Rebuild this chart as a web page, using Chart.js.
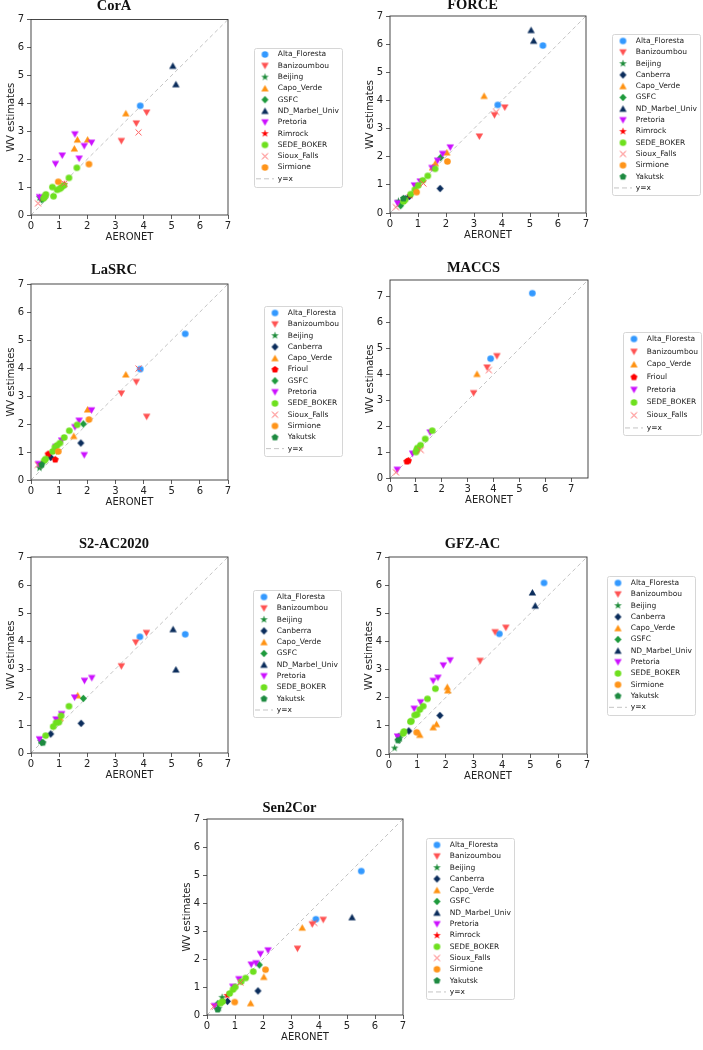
<!DOCTYPE html>
<html>
<head>
<meta charset="utf-8">
<script src="https://cdn.jsdelivr.net/npm/chart.js@4.4.1/dist/chart.umd.min.js"></script>
<style>
  body { margin: 0; background: #fff; width: 703px; height: 1050px; position: relative; overflow: hidden; }
  canvas { position: absolute; }
</style>
</head>
<body>
<script>
// stations, in legend order
const siteCodes = ['AF', 'BA', 'BE', 'CA', 'CV', 'FR', 'GS', 'ND', 'PR', 'RI', 'SB', 'SF', 'SI', 'YA'];
const siteNames = ['Alta_Floresta', 'Banizoumbou', 'Beijing', 'Canberra', 'Capo_Verde', 'Frioul', 'GSFC',
  'ND_Marbel_Univ', 'Pretoria', 'Rimrock', 'SEDE_BOKER', 'Sioux_Falls', 'Sirmione', 'Yakutsk'];
const siteColors = ['#3399ff', '#ff5252', '#1e8c3a', '#0b2d5c', '#ff9212', '#ff0000', '#1e9a3c',
  '#0b2d5c', '#cc11ff', '#ff0000', '#6ee01e', '#ff5a5a', '#ff9419', '#1d8a40'];
const siteMarkers = ['o', 'v', '*', 'D', '^', 'p', 'D', '^', 'v', '*', 'o', 'x', 'o', 'p'];

const tickVals = [0, 1, 2, 3, 4, 5, 6, 7];

// CorA
const coraSite = ['AF', 'BA', 'BA', 'BA', 'BE', 'CV', 'CV', 'CV', 'CV', 'GS', 'GS', 'ND', 'ND',
  'PR', 'PR', 'PR', 'PR', 'PR', 'PR', 'PR', 'RI',
  'SB', 'SB', 'SB', 'SB', 'SB', 'SB', 'SB', 'SB', 'SB', 'SB', 'SB', 'SF', 'SF', 'SF', 'SI', 'SI'];
const coraX = [3.88, 4.11, 3.74, 3.21, 0.30, 3.37, 1.54, 1.65, 2.01, 0.38, 0.42, 5.04, 5.15,
  1.56, 1.89, 2.15, 1.11, 0.87, 1.71, 0.30, 1.18,
  1.63, 1.35, 0.76, 0.80, 0.53, 0.50, 0.93, 1.09, 1.17, 1.03, 0.45, 3.82, 0.25, 1.18, 2.06, 0.97];
const coraY = [3.91, 3.67, 3.28, 2.65, 0.62, 3.64, 2.38, 2.70, 2.70, 0.55, 0.58, 5.34, 4.68,
  2.89, 2.47, 2.59, 2.13, 1.83, 2.02, 0.64, 1.10,
  1.69, 1.33, 1.00, 0.67, 0.74, 0.67, 0.90, 1.00, 1.06, 0.94, 0.60, 2.96, 0.42, 1.13, 1.82, 1.19];

// FORCE
const forceSite = ['AF', 'AF', 'BA', 'BA', 'BA', 'BE', 'CA', 'CA', 'CA', 'CV', 'CV', 'CV', 'CV', 'GS', 'GS',
  'ND', 'ND', 'PR', 'PR', 'PR', 'PR', 'PR', 'PR', 'PR', 'RI',
  'SB', 'SB', 'SB', 'SB', 'SB', 'SB', 'SB', 'SB', 'SF', 'SF', 'SF', 'SI', 'SI', 'YA'];
const forceX = [5.46, 3.85, 4.10, 3.73, 3.19, 0.30, 1.79, 0.69, 0.55, 3.36, 2.03, 1.62, 1.52, 1.81, 0.38,
  5.04, 5.13, 2.15, 1.88, 1.70, 1.50, 0.87, 1.08, 0.27, 0.72,
  1.61, 1.35, 1.17, 1.01, 0.89, 0.74, 0.54, 0.48, 3.79, 1.19, 0.21, 2.05, 0.95, 0.48];
const forceY = [5.95, 3.84, 3.75, 3.48, 2.72, 0.42, 0.87, 0.59, 0.50, 4.16, 2.15, 1.77, 1.62, 1.97, 0.26,
  6.50, 6.12, 2.33, 2.10, 1.86, 1.60, 0.98, 1.12, 0.35, 0.62,
  1.57, 1.32, 1.16, 0.98, 0.83, 0.67, 0.47, 0.41, 3.59, 1.05, 0.21, 1.83, 0.74, 0.52];

// LaSRC
const lasrcSite = ['AF', 'AF', 'BA', 'BA', 'BA', 'BE', 'CA', 'CA', 'CV', 'CV', 'CV', 'FR', 'FR', 'GS', 'GS',
  'PR', 'PR', 'PR', 'PR', 'PR', 'PR', 'PR',
  'SB', 'SB', 'SB', 'SB', 'SB', 'SB', 'SB', 'SB', 'SB', 'SF', 'SF', 'SI', 'SI', 'YA'];
const lasrcX = [5.48, 3.88, 3.74, 3.21, 4.11, 0.30, 1.77, 0.70, 3.37, 2.01, 1.52, 0.61, 0.86, 1.86, 0.34,
  2.15, 1.71, 1.56, 1.09, 0.88, 1.89, 0.27,
  1.64, 1.36, 1.18, 1.03, 0.93, 0.85, 0.77, 0.52, 0.47, 3.82, 0.24, 2.06, 0.97, 0.38];
const lasrcY = [5.22, 3.96, 3.50, 3.09, 2.26, 0.43, 1.32, 0.81, 3.77, 2.52, 1.57, 0.93, 0.73, 2.00, 0.50,
  2.49, 2.12, 1.89, 1.41, 1.18, 0.89, 0.57,
  1.97, 1.76, 1.52, 1.32, 1.24, 1.17, 1.02, 0.75, 0.69, 3.98, 0.54, 2.16, 1.02, 0.55];

// MACCS
const maccsSite = ['AF', 'AF', 'BA', 'BA', 'BA', 'CV', 'FR', 'FR', 'PR', 'PR', 'PR',
  'SB', 'SB', 'SB', 'SB', 'SB', 'SB', 'SF', 'SF', 'SF'];
const maccsX = [5.50, 3.89, 4.13, 3.75, 3.23, 3.36, 0.65, 0.71, 1.55, 0.87, 0.28,
  1.63, 1.36, 1.18, 1.06, 1.00, 1.03, 3.82, 1.19, 0.23];
const maccsY = [7.14, 4.61, 4.71, 4.27, 3.28, 4.02, 0.64, 0.67, 1.76, 0.94, 0.32,
  1.83, 1.51, 1.27, 1.16, 1.00, 1.08, 4.17, 1.08, 0.22];

// S2-AC2020
const s2acSite = ['AF', 'AF', 'BA', 'BA', 'BA', 'BE', 'CA', 'CA', 'CV', 'CV', 'GS', 'GS', 'ND', 'ND',
  'PR', 'PR', 'PR', 'PR', 'PR', 'PR', 'SB', 'SB', 'SB', 'SB', 'SB', 'SB', 'YA'];
const s2acX = [5.48, 3.87, 4.10, 3.72, 3.21, 0.34, 1.78, 0.70, 1.66, 1.03, 1.86, 0.38, 5.05, 5.15,
  2.16, 1.90, 1.55, 1.09, 0.89, 0.30, 1.35, 1.07, 0.99, 0.89, 0.79, 0.52, 0.42];
const s2acY = [4.24, 4.15, 4.29, 3.95, 3.10, 0.42, 1.06, 0.68, 2.06, 1.25, 1.95, 0.38, 4.42, 2.98,
  2.68, 2.58, 1.98, 1.39, 1.20, 0.49, 1.67, 1.33, 1.10, 1.08, 0.94, 0.62, 0.37];

// GFZ-AC
const gfzSite = ['AF', 'AF', 'BA', 'BA', 'BA', 'BE', 'BE', 'CA', 'CA', 'CV', 'CV', 'CV', 'CV', 'CV', 'GS', 'GS',
  'ND', 'ND', 'PR', 'PR', 'PR', 'PR', 'PR', 'PR', 'PR',
  'SB', 'SB', 'SB', 'SB', 'SB', 'SB', 'SB', 'SB', 'SB', 'SB', 'SI', 'YA'];
const gfzX = [5.48, 3.90, 4.13, 3.75, 3.22, 0.20, 0.38, 1.80, 0.70, 2.06, 2.08, 1.68, 1.56, 1.09, 0.35, 0.34,
  5.07, 5.17, 2.16, 1.92, 1.73, 1.56, 1.12, 0.89, 0.30,
  1.64, 1.36, 1.21, 1.09, 0.99, 0.91, 0.79, 0.76, 0.53, 0.50, 0.98, 0.32];
const gfzY = [6.08, 4.27, 4.49, 4.33, 3.31, 0.21, 0.55, 1.37, 0.82, 2.38, 2.26, 1.06, 0.95, 0.68, 0.63, 0.52,
  5.74, 5.27, 3.33, 3.15, 2.71, 2.60, 1.84, 1.61, 0.62,
  2.32, 1.96, 1.70, 1.58, 1.41, 1.38, 1.17, 1.15, 0.80, 0.73, 0.77, 0.49];

// Sen2Cor
const s2cSite = ['AF', 'AF', 'BA', 'BA', 'BA', 'BE', 'BE', 'CA', 'CA', 'CV', 'CV', 'CV', 'GS', 'GS', 'ND',
  'PR', 'PR', 'PR', 'PR', 'PR', 'PR', 'PR', 'RI',
  'SB', 'SB', 'SB', 'SB', 'SB', 'SB', 'SB', 'SB', 'SF', 'SF', 'SF', 'SI', 'SI', 'YA'];
const s2cX = [5.51, 3.89, 4.15, 3.76, 3.23, 0.54, 0.42, 1.82, 0.73, 3.40, 2.03, 1.56, 1.87, 0.39, 5.18,
  2.18, 1.91, 1.75, 1.58, 1.14, 0.92, 0.27, 0.72,
  1.65, 1.38, 1.22, 1.01, 0.93, 0.81, 0.56, 0.48, 3.83, 1.19, 0.24, 2.09, 0.99, 0.38];
const s2cY = [5.14, 3.42, 3.40, 3.24, 2.37, 0.63, 0.24, 0.86, 0.49, 3.12, 1.36, 0.42, 1.79, 0.41, 3.49,
  2.31, 2.18, 1.85, 1.80, 1.28, 1.01, 0.32, 0.70,
  1.55, 1.32, 1.19, 1.00, 0.91, 0.77, 0.48, 0.42, 3.29, 1.16, 0.30, 1.62, 0.46, 0.20];

// panel placement on the page: plot area [left, top, right, bottom], title centre, legend frame corner
const panels = [
  { title: 'CorA', site: coraSite, x: coraX, y: coraY, max: 7, area: [31, 19, 228, 215], titleY: 5.5, right: 344, legend: [254, 47], pad: 3.8 },
  { title: 'FORCE', site: forceSite, x: forceX, y: forceY, max: 7, area: [390, 16, 586, 213], titleY: 5, right: 703, legend: [612, 34], pad: 3.8 },
  { title: 'LaSRC', site: lasrcSite, x: lasrcX, y: lasrcY, max: 7, area: [31, 284, 228, 480], titleY: 270, right: 345, legend: [264, 306], pad: 3.8 },
  { title: 'MACCS', site: maccsSite, x: maccsX, y: maccsY, max: 7.65, area: [390, 280, 588, 478], titleY: 268, right: 703, legend: [623, 332], pad: 5.2 },
  { title: 'S2-AC2020', site: s2acSite, x: s2acX, y: s2acY, max: 7, area: [31, 557, 228, 753], titleY: 544, right: 343, legend: [253, 590], pad: 3.8 },
  { title: 'GFZ-AC', site: gfzSite, x: gfzX, y: gfzY, max: 7, area: [389, 557, 587, 754], titleY: 544, right: 703, legend: [607, 576], pad: 3.8 },
  { title: 'Sen2Cor', site: s2cSite, x: s2cX, y: s2cY, max: 7, area: [207, 819, 403, 1015], titleY: 808, right: 522, legend: [426, 838], pad: 3.8 }
];

Chart.defaults.font.family = 'DejaVu Sans';

function makeMarker(shape, color) {
  const c = document.createElement('canvas');
  c.width = 11; c.height = 11;
  const g = c.getContext('2d');
  g.translate(5.5, 5.5);
  g.fillStyle = color;
  g.strokeStyle = color;
  g.beginPath();
  if (shape === 'x') {
    g.lineWidth = 1;
    g.moveTo(-3, -3); g.lineTo(3, 3);
    g.moveTo(3, -3); g.lineTo(-3, 3);
    g.stroke();
    return c;
  }
  if (shape === 'o') {
    g.arc(0, 0, 3.3, 0, Math.PI * 2);
  } else if (shape === 'v') {
    g.moveTo(-3.7, -3); g.lineTo(3.7, -3); g.lineTo(0, 3.6);
  } else if (shape === '^') {
    g.moveTo(-3.7, 3); g.lineTo(3.7, 3); g.lineTo(0, -3.6);
  } else if (shape === 'D') {
    g.moveTo(0, -3.8); g.lineTo(3.5, 0); g.lineTo(0, 3.8); g.lineTo(-3.5, 0);
  } else if (shape === '*') {
    for (let i = 0; i < 10; i++) {
      const r = i % 2 ? 1.6 : 4;
      const a = -Math.PI / 2 + i * Math.PI / 5;
      g.lineTo(r * Math.cos(a), r * Math.sin(a));
    }
  } else if (shape === 'p') {
    for (let i = 0; i < 5; i++) {
      const a = -Math.PI / 2 + i * 2 * Math.PI / 5;
      g.lineTo(3.6 * Math.cos(a), 3.6 * Math.sin(a));
    }
  }
  g.closePath();
  g.fill();
  return c;
}

// dashed swatch for the y=x legend entry
const dashSwatch = document.createElement('canvas');
dashSwatch.width = 18; dashSwatch.height = 3;
(function () {
  const g = dashSwatch.getContext('2d');
  g.strokeStyle = '#c4c4c4';
  g.lineWidth = 1;
  g.setLineDash([5, 3]);
  g.beginPath(); g.moveTo(0, 1.5); g.lineTo(18, 1.5); g.stroke();
})();

const markerImgs = siteCodes.map((c, k) => makeMarker(siteMarkers[k], siteColors[k]));

function buildDatasets(sites, xs, ys, max) {
  const sets = [];
  siteCodes.forEach((code, k) => {
    const pts = [];
    sites.forEach((s, i) => {
      if (s === code) pts.push({ x: xs[i], y: ys[i] });
    });
    if (!pts.length) return;
    sets.push({
      label: siteNames[k],
      data: pts,
      pointStyle: markerImgs[k],
      pointRadius: 3.5,
      backgroundColor: siteColors[k],
      borderColor: siteColors[k],
      order: 50 - k
    });
  });
  sets.push({
    type: 'line',
    label: 'y=x',
    data: [0, max].map(v => ({ x: v, y: v })),
    showLine: true,
    borderColor: '#c4c4c4',
    borderWidth: 1,
    borderDash: [4, 3],
    pointRadius: 0,
    pointStyle: dashSwatch,
    order: 100
  });
  return sets;
}

// moves the legend to its spot beside the plot, draws its frame and the axes box
const legendPlace = {
  id: 'legendPlace',
  afterLayout(chart, args, o) {
    const lg = chart.legend;
    if (!lg) return;
    lg.left = o.x + 2 - o.pad;
    lg.top = o.y + 3.25 - o.pad;
    lg.right = lg.left + lg.width;
    lg.bottom = lg.top + lg.height;
  },
  beforeDraw(chart, args, o) {
    const hb = chart.legend && chart.legend.legendHitBoxes;
    if (!hb || !hb.length) return;
    const ctx = chart.ctx;
    const right = Math.max(...hb.map(h => h.left + h.width)) + 3;
    const last = hb[hb.length - 1];
    const bottom = last.top + last.height + 3.5;
    ctx.save();
    ctx.fillStyle = '#fff';
    ctx.strokeStyle = '#d6d6d6';
    ctx.lineWidth = 1;
    ctx.beginPath();
    ctx.roundRect(Math.round(o.x) + 0.5, Math.round(o.y) + 0.5, Math.round(right - o.x), Math.round(bottom - o.y), 2);
    ctx.fill();
    ctx.stroke();
    ctx.restore();
  },
  afterDatasetsDraw(chart) {
    const a = chart.chartArea, ctx = chart.ctx;
    ctx.save();
    ctx.strokeStyle = '#333';
    ctx.lineWidth = 0.9;
    ctx.strokeRect(a.left, a.top, a.right - a.left, a.bottom - a.top);
    ctx.restore();
  }
};

const tickFont = { family: 'DejaVu Sans', size: 10 };
const titleFont = { family: 'DejaVu Sans', size: 10 };

panels.forEach(p => {
  const [L, T, R, B] = p.area;
  const cLeft = L - 31;
  const cTop = p.titleY - 7;
  const cv = document.createElement('canvas');
  cv.width = p.right - cLeft;
  cv.height = B + 30 - cTop;
  cv.style.left = cLeft + 'px';
  cv.style.top = cTop + 'px';
  document.body.appendChild(cv);

  new Chart(cv, {
    type: 'scatter',
    data: { datasets: buildDatasets(p.site, p.x, p.y, p.max) },
    options: {
      responsive: false,
      animation: false,
      events: [],
      layout: { padding: { left: 0, top: 0, bottom: 0, right: p.right - R } },
      scales: {
        x: {
          type: 'linear',
          min: 0,
          max: p.max,
          afterBuildTicks: s => { s.ticks = tickVals.map(v => ({ value: v })); },
          afterFit: s => { s.height = 30; },
          grid: { drawOnChartArea: false, drawTicks: true, tickLength: 4, color: '#333', lineWidth: 0.8 },
          border: { display: false },
          ticks: { color: '#222', font: tickFont, padding: 1, maxRotation: 0, autoSkip: false },
          title: { display: true, text: 'AERONET', color: '#222', font: titleFont, padding: { top: 0, bottom: 2 } }
        },
        y: {
          type: 'linear',
          min: 0,
          max: p.max,
          afterBuildTicks: s => { s.ticks = tickVals.map(v => ({ value: v })); },
          afterFit: s => { s.width = 31; },
          grid: { drawOnChartArea: false, drawTicks: true, tickLength: 4, color: '#333', lineWidth: 0.8 },
          border: { display: false },
          ticks: { color: '#222', font: tickFont, padding: 3, autoSkip: false },
          title: { display: true, text: 'WV estimates', color: '#222', font: titleFont, padding: { top: 5, bottom: 0 } }
        }
      },
      plugins: {
        tooltip: { enabled: false },
        title: {
          display: true,
          text: p.title,
          color: '#111',
          font: { family: 'Liberation Serif', size: 14.5, weight: 'bold', lineHeight: 14 / 14.5 },
          padding: { top: 0, bottom: T - cTop - 14 }
        },
        legend: {
          position: 'chartArea',
          align: 'start',
          labels: {
            usePointStyle: true,
            pointStyleWidth: 18,
            color: '#222',
            font: { family: 'DejaVu Sans', size: 7.5 },
            padding: p.pad,
            sort: (a, b) => a.datasetIndex - b.datasetIndex
          }
        },
        legendPlace: { x: p.legend[0] - cLeft, y: p.legend[1] - cTop, pad: p.pad }
      }
    },
    plugins: [legendPlace]
  });
});
</script>
</body>
</html>
